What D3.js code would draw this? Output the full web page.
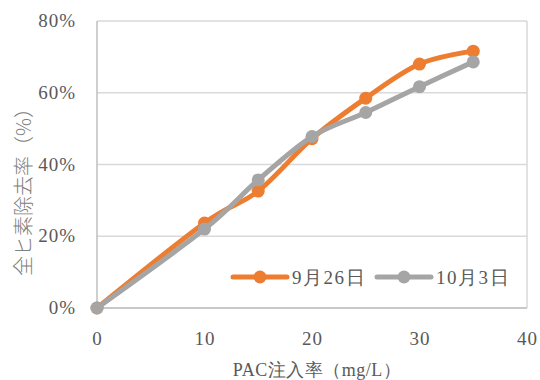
<!DOCTYPE html>
<html><head><meta charset="utf-8">
<script src="https://cdn.jsdelivr.net/npm/d3@7"></script>
<style>body{margin:0;background:#fff} .sf{font-family:"Liberation Serif","Times New Roman","DejaVu Serif",serif}</style>
</head><body>
<svg id="c" width="540" height="380"></svg>
<script>
const xValues = [0, 10, 15, 20, 25, 30, 35];
const seriesNames = ["9月26日", "10月3日"];
const sep26 = [0, 0.237, 0.326, 0.472, 0.585, 0.68, 0.716];
const oct3 = [0, 0.22, 0.357, 0.478, 0.545, 0.617, 0.686];
const xTicks = [0, 10, 20, 30, 40];
const yTicks = [0, 0.2, 0.4, 0.6, 0.8];
const colors = ["#ED7D31", "#A5A5A5"];

const svg = d3.select("#c");
const L = 97, R = 527, T = 21, B = 308;
const x = d3.scaleLinear().domain([0, 40]).range([L, R]);
const y = d3.scaleLinear().domain([0, 0.8]).range([B, T]);
const txt = "#595959";

// gridlines
svg.append("g").selectAll("line").data(yTicks).join("line")
  .attr("x1", L).attr("x2", R).attr("y1", d => y(d)).attr("y2", d => y(d))
  .attr("stroke", "#d9d9d9").attr("stroke-width", 1.5);
// border
svg.append("line").attr("x1", L).attr("x2", L).attr("y1", T).attr("y2", B).attr("stroke", "#bfbfbf").attr("stroke-width", 1.5);
svg.append("line").attr("x1", R).attr("x2", R).attr("y1", T).attr("y2", B).attr("stroke", "#d9d9d9").attr("stroke-width", 1.5);
svg.append("line").attr("x1", L).attr("x2", R).attr("y1", B).attr("y2", B).attr("stroke", "#bfbfbf").attr("stroke-width", 1.5);

// y tick labels
svg.append("g").selectAll("text").data(yTicks).join("text").attr("class", "sf")
  .attr("x", 76).attr("y", d => y(d) + 6).attr("text-anchor", "end")
  .attr("font-size", 19).attr("letter-spacing", 1).attr("fill", txt)
  .text(d => d3.format(".0%")(d));
// x tick labels
svg.append("g").selectAll("text").data(xTicks).join("text").attr("class", "sf")
  .attr("x", d => x(d) + 0.5).attr("y", 345).attr("text-anchor", "middle")
  .attr("font-size", 19).attr("letter-spacing", 1).attr("fill", txt)
  .text(d => d);

// axis titles
svg.append("text").attr("class", "sf").attr("x", 317).attr("y", 376).attr("text-anchor", "middle")
  .attr("font-size", 18).attr("letter-spacing", 0.5).attr("fill", txt)
  .text("PAC注入率（mg/L）");
svg.append("text").attr("transform", "translate(31,187) rotate(-90)").attr("text-anchor", "middle")
  .style("font-family", "'Noto Sans CJK JP',sans-serif").attr("font-size", 20).attr("font-weight", 300).attr("fill", "#808080")
  .text("全ヒ素除去率（%）");

// series
const all = [sep26, oct3];
const line = d3.line().x((d, i) => x(xValues[i])).y(d => y(d)).curve(d3.curveCardinal.tension(0));
all.forEach((vals, k) => {
  const g = svg.append("g");
  g.append("path").attr("d", line(vals)).attr("fill", "none").attr("stroke", colors[k])
    .attr("stroke-width", 5).attr("stroke-linejoin", "round").attr("stroke-linecap", "round");
  g.selectAll("circle").data(vals).join("circle")
    .attr("cx", (d, i) => x(xValues[i])).attr("cy", d => y(d)).attr("r", 6.5).attr("fill", colors[k]);
});

// legend
const legX = [233, 377];
seriesNames.forEach((n, k) => {
  const g = svg.append("g").attr("transform", `translate(${legX[k]},277)`);
  g.append("line").attr("x1", 0).attr("x2", 54).attr("stroke", colors[k]).attr("stroke-width", 5).attr("stroke-linecap", "round");
  g.append("circle").attr("cx", 27).attr("r", 6.5).attr("fill", colors[k]);
  g.append("text").attr("class", "sf").attr("x", 59).attr("y", 6.5).attr("font-size", 19).attr("letter-spacing", 1.5).attr("fill", txt).text(n);
});
</script>
</body></html>
